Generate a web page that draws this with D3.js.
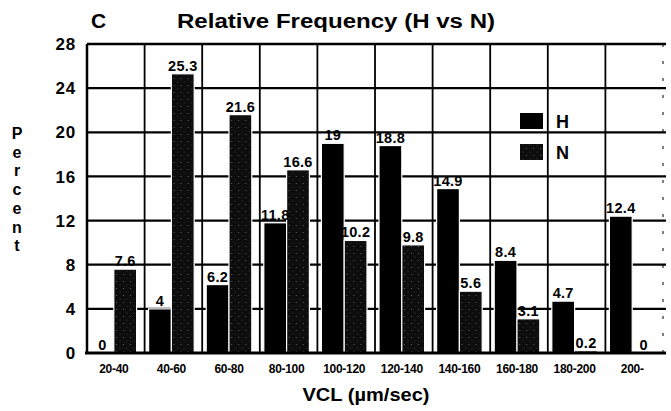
<!DOCTYPE html>
<html>
<head>
<meta charset="utf-8">
<script src="https://cdn.jsdelivr.net/npm/d3@7"></script>
<style>
  body { margin: 0; background: #fff; }
  svg { display: block; }
  text { font-family: "Liberation Sans", Arial, sans-serif; font-weight: bold; fill: #000; }
</style>
</head>
<body>
<svg id="chart" width="671" height="411"></svg>
<script>
// data
const categories = ["20-40", "40-60", "60-80", "80-100", "100-120", "120-140", "140-160", "160-180", "180-200", "200-"];
const hValues = [0, 4, 6.2, 11.8, 19, 18.8, 14.9, 8.4, 4.7, 12.4];
const nValues = [7.6, 25.3, 21.6, 16.6, 10.2, 9.8, 5.6, 3.1, 0.2, 0];
const hLabels = ["0", "4", "6.2", "11.8", "19", "18.8", "14.9", "8.4", "4.7", "12.4"];
const nLabels = ["7.6", "25.3", "21.6", "16.6", "10.2", "9.8", "5.6", "3.1", "0.2", "0"];
const yTicks = [0, 4, 8, 12, 16, 20, 24, 28];
const seriesNames = ["H", "N"];

const svg = d3.select("#chart");

const plotLeft = 87, plotRight = 663, plotTop = 44, plotBottom = 353;

const x0 = d3.scaleBand().domain(categories).range([plotLeft, plotRight]);
const x1 = d3.scaleBand().domain(seriesNames).range([4, x0.bandwidth() - 8]);
const y = d3.scaleLinear().domain([0, 28]).range([plotBottom, plotTop]);

// stipple pattern for the N bars
const defs = svg.append("defs");
const pat = defs.append("pattern")
  .attr("id", "stip")
  .attr("width", 7).attr("height", 7)
  .attr("patternUnits", "userSpaceOnUse");
pat.append("rect").attr("width", 7).attr("height", 7).attr("fill", "#0d0d0d");
pat.append("circle").attr("cx", 1.5).attr("cy", 1.5).attr("r", 0.6).attr("fill", "#666");
pat.append("circle").attr("cx", 5).attr("cy", 5).attr("r", 0.5).attr("fill", "#444");

// grid
const grid = svg.append("g");
grid.selectAll(".hline")
  .data(yTicks.filter((d) => d > 0))
  .enter()
  .append("line")
  .attr("x1", plotLeft).attr("x2", plotRight + 3)
  .attr("y1", (d) => y(d)).attr("y2", (d) => y(d))
  .attr("stroke", "#000")
  .attr("stroke-width", (d) => (d === 28 ? 2.6 : 2.3));

grid.selectAll(".vline")
  .data(categories)
  .enter()
  .append("line")
  .attr("x1", (d) => x0(d) + x0.bandwidth())
  .attr("x2", (d) => x0(d) + x0.bandwidth())
  .attr("y1", plotTop).attr("y2", plotBottom)
  .attr("stroke", "#000")
  .attr("stroke-width", (d, i) => (i === categories.length - 1 ? 1 : 1.8))
  .attr("stroke-dasharray", (d, i) => (i === categories.length - 1 ? "3,14" : null));

// bars
const groups = svg.append("g")
  .selectAll("g")
  .data(categories)
  .enter()
  .append("g")
  .attr("transform", (d) => `translate(${x0(d)},0)`);

const barData = (c, i) => [
  { key: "H", value: hValues[i], label: hLabels[i] },
  { key: "N", value: nValues[i], label: nLabels[i] },
];

groups.selectAll("rect")
  .data(barData)
  .enter()
  .append("rect")
  .attr("x", (d) => x1(d.key))
  .attr("width", x1.bandwidth())
  .attr("y", (d) => y(d.value))
  .attr("height", (d) => plotBottom - y(d.value))
  .attr("fill", (d) => (d.key === "H" ? "#000" : "url(#stip)"))
  .attr("stroke", "#fff")
  .attr("stroke-width", 1.2);

groups.selectAll(".val")
  .data(barData)
  .enter()
  .append("text")
  .attr("class", "val")
  .attr("x", (d) => x1(d.key) + x1.bandwidth() / 2)
  .attr("y", (d) => y(d.value) - 3)
  .attr("text-anchor", "middle")
  .attr("font-size", 14.5)
  .attr("letter-spacing", 0.3)
  .text((d) => d.label);

// axes
svg.append("line")
  .attr("x1", plotLeft).attr("x2", plotLeft)
  .attr("y1", plotTop).attr("y2", plotBottom)
  .attr("stroke", "#000").attr("stroke-width", 2.5);
svg.append("line")
  .attr("x1", plotLeft - 2).attr("x2", plotRight + 3)
  .attr("y1", plotBottom).attr("y2", plotBottom)
  .attr("stroke", "#000").attr("stroke-width", 3);

svg.append("g")
  .selectAll("text")
  .data(yTicks)
  .enter()
  .append("text")
  .attr("x", 76)
  .attr("y", (d) => y(d))
  .attr("dy", "0.36em")
  .attr("text-anchor", "end")
  .attr("font-size", 17)
  .attr("letter-spacing", 0.8)
  .text((d) => d);

svg.append("g")
  .selectAll("text")
  .data(categories)
  .enter()
  .append("text")
  .attr("x", (d) => x0(d) + x0.bandwidth() / 2 - 2)
  .attr("y", 373)
  .attr("text-anchor", "middle")
  .attr("font-size", 12)
  .attr("letter-spacing", -0.3)
  .text((d) => d);

// y title, one letter per line
svg.append("g")
  .selectAll("text")
  .data("Percent".split(""))
  .enter()
  .append("text")
  .attr("x", 17)
  .attr("y", (d, i) => 139 + i * 18.7)
  .attr("text-anchor", "middle")
  .attr("font-size", 16)
  .text((d) => d);

svg.append("text")
  .attr("x", 366).attr("y", 401)
  .attr("text-anchor", "middle")
  .attr("font-size", 18)
  .attr("textLength", 127)
  .attr("lengthAdjust", "spacingAndGlyphs")
  .text("VCL (\u00b5m/sec)");

// titles
svg.append("text")
  .attr("x", 91).attr("y", 28)
  .attr("font-size", 21)
  .text("C");
svg.append("text")
  .attr("x", 177).attr("y", 28)
  .attr("font-size", 20)
  .attr("textLength", 318)
  .attr("lengthAdjust", "spacingAndGlyphs")
  .text("Relative Frequency (H vs N)");

// legend
const legend = svg.append("g");
const legendRows = [
  { key: "H", fill: "#000", y: 113 },
  { key: "N", fill: "url(#stip)", y: 144 },
];
legend.selectAll("rect")
  .data(legendRows)
  .enter()
  .append("rect")
  .attr("x", 520).attr("y", (d) => d.y)
  .attr("width", 23).attr("height", 16)
  .attr("fill", (d) => d.fill);
legend.selectAll("text")
  .data(legendRows)
  .enter()
  .append("text")
  .attr("x", 556).attr("y", (d) => d.y + 15)
  .attr("font-size", 18)
  .text((d) => d.key);
</script>
</body>
</html>
